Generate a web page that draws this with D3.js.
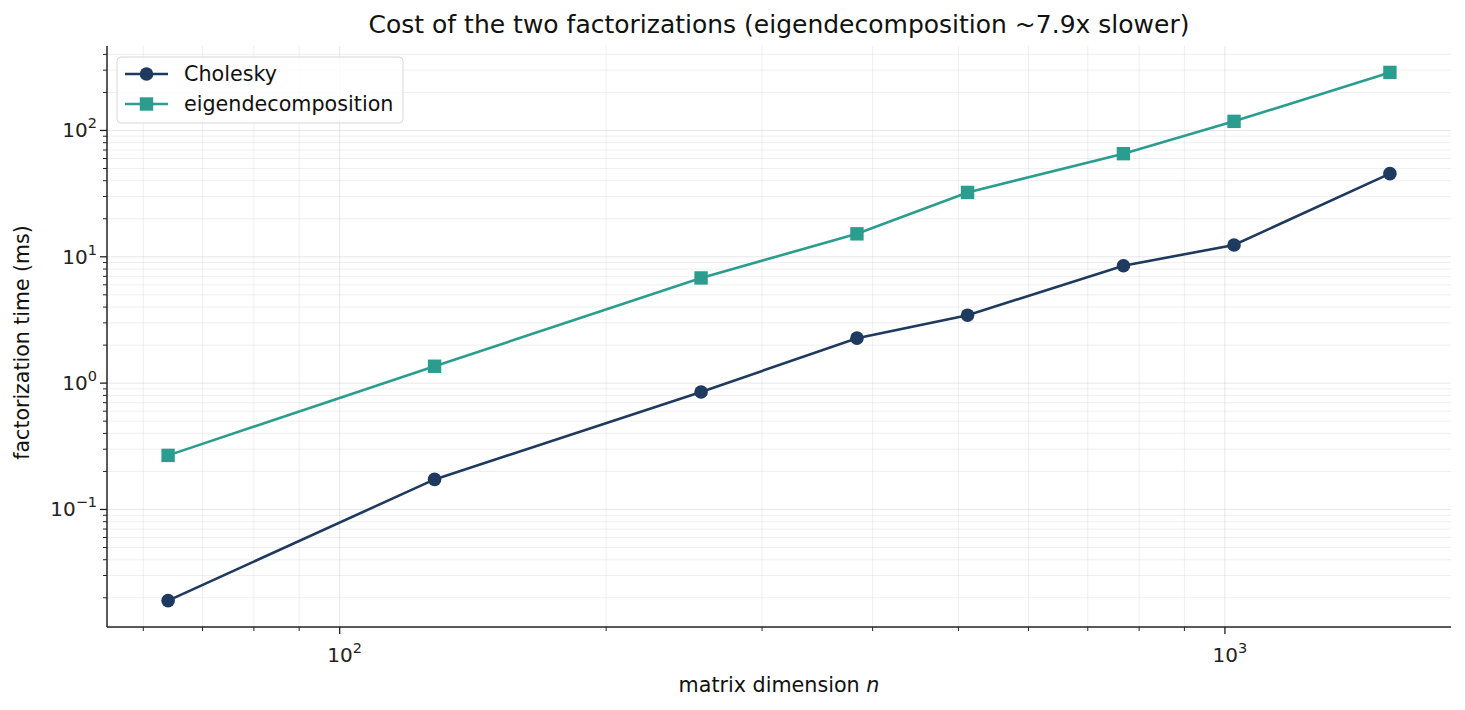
<!DOCTYPE html>
<html><head><meta charset="utf-8">
<script src="https://cdn.jsdelivr.net/npm/d3@7"></script>
<style>body{margin:0;background:#fff;} text{font-family:"DejaVu Sans",sans-serif;}</style>
</head><body>
<svg id="c" width="1465" height="710"></svg>
<script>
const sizes = [64, 128, 256, 384, 512, 768, 1024, 1536];
const cholesky = [0.019, 0.173, 0.85, 2.27, 3.45, 8.5, 12.4, 45.5];
const eigen = [0.268, 1.36, 6.8, 15.2, 32.3, 65.5, 118, 288];
const seriesNames = ["Cholesky", "eigendecomposition"];
const xMajor = [100, 1000];
const yMajor = [0.1, 1, 10, 100];

const svg = d3.select("#c");
const L = 107, R = 1451, T = 46, B = 627;
const lx = d3.extent(sizes).map(Math.log10);
const px = (lx[1]-lx[0])*0.05;
const x = d3.scaleLog().domain([10**(lx[0]-px), 10**(lx[1]+px)]).range([L, R]);
const all = cholesky.concat(eigen);
const ly = d3.extent(all).map(Math.log10);
const py = (ly[1]-ly[0])*0.05;
const y = d3.scaleLog().domain([10**(ly[0]-py), 10**(ly[1]+py)]).range([B, T]);

function logTicks(dom){
  const out=[]; const a=Math.floor(Math.log10(dom[0])), b=Math.ceil(Math.log10(dom[1]));
  for(let e=a;e<=b;e++) for(let m=1;m<10;m++){const v=m*10**e; if(v>=dom[0]&&v<=dom[1]) out.push({v, major:m===1, e});}
  return out;
}
const xt = logTicks(x.domain()), yt = logTicks(y.domain());
const grid = svg.append("g");
xt.forEach(t=>grid.append("line").attr("x1",x(t.v)).attr("x2",x(t.v)).attr("y1",T).attr("y2",B)
  .attr("stroke","#b0b0b0").attr("stroke-opacity",t.major?0.3:0.2).attr("stroke-width",1));
yt.forEach(t=>grid.append("line").attr("y1",y(t.v)).attr("y2",y(t.v)).attr("x1",L).attr("x2",R)
  .attr("stroke","#b0b0b0").attr("stroke-opacity",t.major?0.3:0.2).attr("stroke-width",1));

// axes
const ax = svg.append("g").attr("stroke","#222");
ax.append("line").attr("x1",L).attr("x2",R).attr("y1",B).attr("y2",B).attr("stroke-width",1.5);
ax.append("line").attr("x1",L).attr("x2",L).attr("y1",T).attr("y2",B).attr("stroke-width",1.5);
xt.forEach(t=>ax.append("line").attr("x1",x(t.v)).attr("x2",x(t.v)).attr("y1",B).attr("y2",B+(t.major?7:4)).attr("stroke-width",t.major?1.3:1));
yt.forEach(t=>ax.append("line").attr("y1",y(t.v)).attr("y2",y(t.v)).attr("x1",L).attr("x2",L-(t.major?7:4)).attr("stroke-width",t.major?1.3:1));

function supLabel(g, e){
  g.append("tspan").text("10");
  g.append("tspan").attr("dy",-9).attr("font-size",14.5).text(e<0?"\u2212"+(-e):String(e));
}
xMajor.forEach(v=>{
  const e=Math.round(Math.log10(v));
  const t=svg.append("text").attr("x",x(v)+5).attr("y",B+35).attr("text-anchor","middle").attr("font-size",20).attr("fill","#222");
  supLabel(t,e);
});
yMajor.forEach(v=>{
  const e=Math.round(Math.log10(v));
  const t=svg.append("text").attr("x",L-10).attr("y",y(v)+7).attr("text-anchor","end").attr("font-size",20).attr("fill","#222");
  supLabel(t,e);
});

svg.append("text").attr("x",(L+R)/2).attr("y",33).attr("text-anchor","middle").attr("font-size",25).attr("fill","#111")
  .text("Cost of the two factorizations (eigendecomposition ~7.9x slower)");
const xl = svg.append("text").attr("x",(L+R)/2).attr("y",692).attr("text-anchor","middle").attr("font-size",20.7).attr("fill","#111");
xl.append("tspan").text("matrix dimension ");
xl.append("tspan").attr("font-style","italic").text("n");
svg.append("text").attr("transform",`translate(29,${(T+B)/2+6}) rotate(-90)`).attr("text-anchor","middle").attr("font-size",20.5).attr("fill","#111")
  .text("factorization time (ms)");

const colors = ["#1f3a5f", "#2a9d8f"];
const data = [cholesky, eigen];
const line = d3.line().x(d=>x(d[0])).y(d=>y(d[1]));
data.forEach((vals,i)=>{
  const pts = sizes.map((s,j)=>[s,vals[j]]);
  svg.append("path").attr("d",line(pts)).attr("fill","none").attr("stroke",colors[i]).attr("stroke-width",2.6);
  pts.forEach(p=>{
    if(i===0) svg.append("circle").attr("cx",x(p[0])).attr("cy",y(p[1])).attr("r",6.8).attr("fill",colors[i]);
    else svg.append("rect").attr("x",x(p[0])-6.7).attr("y",y(p[1])-6.7).attr("width",13.4).attr("height",13.4).attr("fill",colors[i]);
  });
});

// legend
const lg = svg.append("g");
lg.append("rect").attr("x",117).attr("y",57).attr("width",286).attr("height",66).attr("rx",4)
  .attr("fill","#fff").attr("fill-opacity",0.8).attr("stroke","#d8d8d8").attr("stroke-width",1);
seriesNames.forEach((n,i)=>{
  const yy = 74 + i*30;
  lg.append("line").attr("x1",125).attr("x2",168).attr("y1",yy).attr("y2",yy).attr("stroke",colors[i]).attr("stroke-width",2.6);
  if(i===0) lg.append("circle").attr("cx",146.5).attr("cy",yy).attr("r",6.8).attr("fill",colors[i]);
  else lg.append("rect").attr("x",139.8).attr("y",yy-6.7).attr("width",13.4).attr("height",13.4).attr("fill",colors[i]);
  lg.append("text").attr("x",184).attr("y",yy+7).attr("font-size",20.7).attr("fill","#111").text(n);
});
</script>
</body></html>
